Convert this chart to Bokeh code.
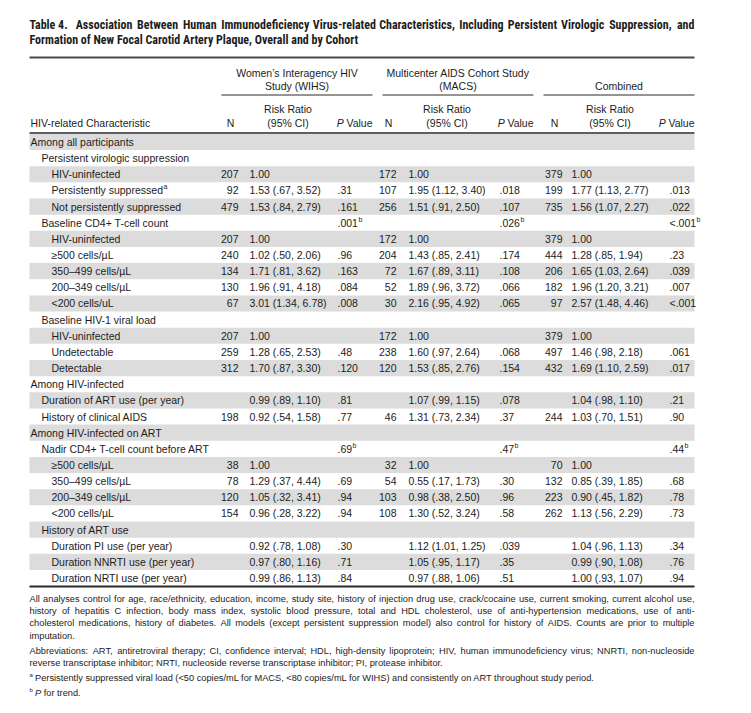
from bokeh.plotting import figure
from bokeh.models import Range1d, ColumnDataSource
from bokeh.core.properties import value
from bokeh.embed import file_html
from bokeh.resources import INLINE

# ---------------- data ----------------
title_lead = "Table 4."
title_line1 = "Association Between Human Immunodeficiency Virus-related Characteristics, Including Persistent Virologic Suppression, and"
title_line2 = "Formation of New Focal Carotid Artery Plaque, Overall and by Cohort"

group_titles = [["Women’s Interagency HIV", "Study (WIHS)"],
                ["Multicenter AIDS Cohort Study", "(MACS)"],
                ["Combined"]]
stub_header = "HIV-related Characteristic"
n_header = "N"
rr_header = ["Risk Ratio", "(95% CI)"]
p_header = ["P", "Value"]

characteristics = [
    "Among all participants",
    "Persistent virologic suppression",
    "HIV-uninfected",
    "Persistently suppressed",
    "Not persistently suppressed",
    "Baseline CD4+ T-cell count",
    "HIV-uninfected",
    "≥500 cells/µL",
    "350–499 cells/µL",
    "200–349 cells/µL",
    "<200 cells/uL",
    "Baseline HIV-1 viral load",
    "HIV-uninfected",
    "Undetectable",
    "Detectable",
    "Among HIV-infected",
    "Duration of ART use (per year)",
    "History of clinical AIDS",
    "Among HIV-infected on ART",
    "Nadir CD4+ T-cell count before ART",
    "≥500 cells/µL",
    "350–499 cells/µL",
    "200–349 cells/µL",
    "<200 cells/µL",
    "History of ART use",
    "Duration PI use (per year)",
    "Duration NNRTI use (per year)",
    "Duration NRTI use (per year)",
]
levels = [0, 1, 2, 2, 2, 1, 2, 2, 2, 2, 2, 1, 2, 2, 2, 0, 1, 1, 0, 1, 2, 2, 2, 2, 1, 2, 2, 2]
char_notes = ["", "", "", "a"] + [""] * 24

wihs_n = ["", "", "207", "92", "479", "", "207", "240", "134", "130", "67", "", "207", "259", "312",
          "", "", "198", "", "", "38", "78", "120", "154", "", "", "", ""]
wihs_rr = ["", "", "1.00", "1.53 (.67, 3.52)", "1.53 (.84, 2.79)", "", "1.00", "1.02 (.50, 2.06)",
           "1.71 (.81, 3.62)", "1.96 (.91, 4.18)", "3.01 (1.34, 6.78)", "", "1.00", "1.28 (.65, 2.53)",
           "1.70 (.87, 3.30)", "", "0.99 (.89, 1.10)", "0.92 (.54, 1.58)", "", "", "1.00",
           "1.29 (.37, 4.44)", "1.05 (.32, 3.41)", "0.96 (.28, 3.22)", "", "0.92 (.78, 1.08)",
           "0.97 (.80, 1.16)", "0.99 (.86, 1.13)"]
wihs_p = ["", "", "", ".31", ".161", ".001^b", "", ".96", ".163", ".084", ".008", "", "", ".48", ".120",
          "", ".81", ".77", "", ".69^b", "", ".69", ".94", ".94", "", ".30", ".71", ".84"]

macs_n = ["", "", "172", "107", "256", "", "172", "204", "72", "52", "30", "", "172", "238", "120",
          "", "", "46", "", "", "32", "54", "103", "108", "", "", "", ""]
macs_rr = ["", "", "1.00", "1.95 (1.12, 3.40)", "1.51 (.91, 2.50)", "", "1.00", "1.43 (.85, 2.41)",
           "1.67 (.89, 3.11)", "1.89 (.96, 3.72)", "2.16 (.95, 4.92)", "", "1.00", "1.60 (.97, 2.64)",
           "1.53 (.85, 2.76)", "", "1.07 (.99, 1.15)", "1.31 (.73, 2.34)", "", "", "1.00",
           "0.55 (.17, 1.73)", "0.98 (.38, 2.50)", "1.30 (.52, 3.24)", "", "1.12 (1.01, 1.25)",
           "1.05 (.95, 1.17)", "0.97 (.88, 1.06)"]
macs_p = ["", "", "", ".018", ".107", ".026^b", "", ".174", ".108", ".066", ".065", "", "", ".068", ".154",
          "", ".078", ".37", "", ".47^b", "", ".30", ".96", ".58", "", ".039", ".35", ".51"]

comb_n = ["", "", "379", "199", "735", "", "379", "444", "206", "182", "97", "", "379", "497", "432",
          "", "", "244", "", "", "70", "132", "223", "262", "", "", "", ""]
comb_rr = ["", "", "1.00", "1.77 (1.13, 2.77)", "1.56 (1.07, 2.27)", "", "1.00", "1.28 (.85, 1.94)",
           "1.65 (1.03, 2.64)", "1.96 (1.20, 3.21)", "2.57 (1.48, 4.46)", "", "1.00", "1.46 (.98, 2.18)",
           "1.69 (1.10, 2.59)", "", "1.04 (.98, 1.10)", "1.03 (.70, 1.51)", "", "", "1.00",
           "0.85 (.39, 1.85)", "0.90 (.45, 1.82)", "1.13 (.56, 2.29)", "", "1.04 (.96, 1.13)",
           "0.99 (.90, 1.08)", "1.00 (.93, 1.07)"]
comb_p = ["", "", "", ".013", ".022", "<.001^b", "", ".23", ".039", ".007", "<.001", "", "", ".061", ".017",
          "", ".21", ".90", "", ".44^b", "", ".68", ".78", ".73", "", ".34", ".76", ".94"]

footnote_paragraphs = [
    ["All analyses control for age, race/ethnicity, education, income, study site, history of injection drug use, crack/cocaine use, current smoking, current alcohol use,",
     "history of hepatitis C infection, body mass index, systolic blood pressure, total and HDL cholesterol, use of anti-hypertension medications, use of anti-",
     "cholesterol medications, history of diabetes. All models (except persistent suppression model) also control for history of AIDS. Counts are prior to multiple",
     "imputation."],
    ["Abbreviations: ART, antiretroviral therapy; CI, confidence interval; HDL, high-density lipoprotein; HIV, human immunodeficiency virus; NNRTI, non-nucleoside",
     "reverse transcriptase inhibitor; NRTI, nucleoside reverse transcriptase inhibitor; PI, protease inhibitor."],
]
footnote_a = "Persistently suppressed viral load (<50 copies/mL for MACS, <80 copies/mL for WIHS) and consistently on ART throughout study period."
footnote_b = ["P", "for trend."]

# ---------------- font metrics (Helvetica/Arial compatible) ----------------
_chars = " !\"#$%&'()*+,-./0123456789:;<=>?@ABCDEFGHIJKLMNOPQRSTUVWXYZ[\\]^_`abcdefghijklmnopqrstuvwxyz{|}~"
_reg = ([278, 278, 355, 556, 556, 889, 667, 191, 333, 333, 389, 584, 278, 333, 278, 278] + [556] * 10 +
        [278, 278, 584, 584, 584, 556, 1015] +
        [667, 667, 722, 722, 667, 611, 778, 722, 278, 500, 667, 556, 833, 722, 778, 667, 778, 722, 667, 611,
         722, 667, 944, 667, 667, 611] + [278, 278, 278, 469, 556, 333] +
        [556, 556, 500, 556, 556, 278, 556, 556, 222, 222, 500, 222, 833, 556, 556, 556, 556, 333, 500, 278,
         556, 500, 722, 500, 500, 500] + [334, 260, 334, 584])
_bold = ([278, 333, 474, 556, 556, 889, 722, 238, 333, 333, 389, 584, 278, 333, 278, 278] + [556] * 10 +
         [333, 333, 584, 584, 584, 611, 975] +
         [722, 722, 722, 722, 667, 611, 778, 722, 278, 556, 722, 611, 833, 722, 778, 667, 778, 722, 667, 611,
          722, 667, 944, 667, 667, 611] + [333, 278, 333, 584, 556, 333] +
         [556, 611, 556, 611, 556, 333, 611, 611, 278, 278, 556, 278, 889, 611, 611, 611, 611, 389, 556, 333,
          611, 556, 778, 556, 556, 500] + [389, 280, 389, 584])
REG = dict(zip(_chars, _reg))
BOLD = dict(zip(_chars, _bold))
for d in (REG, BOLD):
    d.update({"’": 222, "–": 556, "≥": 549, "µ": 556})


def tw(s, table=REG):
    return sum(table.get(c, 556) for c in s) / 1000.0


# ---------------- layout / style ----------------
INK = "#1c1c1c"
BAND = "#dcdcdc"
BODY_FONT = "Liberation Sans"
TITLE_FONT = "Roboto Condensed"
NARROW = 0.833
BODY_FS = 10.5
SUP_FS = 7.0

W, H = 735, 697
X0, X1 = 29, 694
GROUP_X = [(221, 372), (382, 533), (543, 694)]
N_RIGHT = [238, 396, 562]
RR_LEFT = [249, 408, 571]
P_LEFT = [337, 499, 669]
INDENT = [30, 41, 51]

TITLE_Y = [24, 39]
TITLE_GAP = 9
TOP_RULE = 57
GROUP_Y = [72, 85]
GROUP_SINGLE_Y = 85
UNDER_Y = 94.5
SUB_Y = [108.5, 122.5]
HEAD_RULE = 132.6
ROW0 = 133.4
PITCH = 16.15
NROWS = len(characteristics)
BOTTOM_RULE = ROW0 + PITCH * NROWS + 0.4
FOOT_Y0 = 598
LEAD = 12.4
PARA_GAP = 2.5

p = figure(width=W, height=H, x_range=Range1d(0, W), y_range=Range1d(H, 0),
           output_backend="svg", toolbar_location=None, min_border=0,
           x_axis_type=None, y_axis_type=None, outline_line_color=None,
           background_fill_color="white", border_fill_color="white")

buckets = {}


def put(x, y, s, size, align="left", font=BODY_FONT, fstyle="normal"):
    key = (font, size, fstyle, align)
    b = buckets.setdefault(key, {"x": [], "y": [], "text": []})
    b["x"].append(x)
    b["y"].append(y)
    b["text"].append(s)


def put_justified(words, x0, x1, y, size, table, font, fstyle, scale=1.0):
    widths = [tw(w, table) * size * scale for w in words]
    gap = ((x1 - x0) - sum(widths)) / (len(words) - 1) if len(words) > 1 else 0
    x = x0
    for w, wd in zip(words, widths):
        put(x + wd / 2, y, w, size, "center", font, fstyle)
        x += wd + gap


# row bands
band_top = [ROW0 + PITCH * i for i in range(NROWS) if i % 2 == 0]
band_bot = [t + PITCH for t in band_top]
p.quad(left=X0, right=X1, top=band_top, bottom=band_bot, fill_color=BAND, line_color=None)

# rules
p.segment(x0=[X0], y0=[TOP_RULE], x1=[X1], y1=[TOP_RULE], line_color="#4a4a4a", line_width=2)
p.segment(x0=[X0], y0=[HEAD_RULE], x1=[X1], y1=[HEAD_RULE], line_color="#2a2a2a", line_width=1.5)
p.segment(x0=[X0], y0=[BOTTOM_RULE], x1=[X1], y1=[BOTTOM_RULE], line_color="#2a2a2a", line_width=2)
p.segment(x0=[g[0] for g in GROUP_X], y0=[UNDER_Y] * 3, x1=[g[1] for g in GROUP_X], y1=[UNDER_Y] * 3,
          line_color="#2a2a2a", line_width=1)

# title
TFS = min(340.0 / (tw(title_line2, BOLD) * NARROW),
          0.975 * (X1 - X0 - TITLE_GAP) / (tw(title_lead + " " + title_line1, BOLD) * NARROW))
lead_w = tw(title_lead, BOLD) * TFS * NARROW
put(X0, TITLE_Y[0], title_lead, TFS, "left", TITLE_FONT, "bold")
put_justified(title_line1.split(" "), X0 + lead_w + TITLE_GAP, X1, TITLE_Y[0], TFS, BOLD, TITLE_FONT, "bold",
              NARROW)
put(X0, TITLE_Y[1], title_line2, TFS, "left", TITLE_FONT, "bold")

# group headers
for (gx0, gx1), lines in zip(GROUP_X, group_titles):
    cx = (gx0 + gx1) / 2
    if len(lines) == 1:
        put(cx, GROUP_SINGLE_Y, lines[0], BODY_FS, "center")
    else:
        for ln, yy in zip(lines, GROUP_Y):
            put(cx, yy, ln, BODY_FS, "center")

# column headers
put(30, SUB_Y[1], stub_header, BODY_FS)
for g, (gx0, gx1) in enumerate(GROUP_X):
    put(N_RIGHT[g] - 8, SUB_Y[1], n_header, BODY_FS, "center")
    rr_c = RR_LEFT[g] + tw("1.95 (1.12, 3.40)") * BODY_FS / 2
    put(rr_c, SUB_Y[0], rr_header[0], BODY_FS, "center")
    put(rr_c, SUB_Y[1], rr_header[1], BODY_FS, "center")
    put(gx1, SUB_Y[1], p_header[1], BODY_FS, "right")
    put(gx1 - tw(p_header[1]) * BODY_FS - 2, SUB_Y[1], p_header[0], BODY_FS, "right", BODY_FONT, "italic")

# body
for i, (label, lev, note) in enumerate(zip(characteristics, levels, char_notes)):
    y = ROW0 + PITCH * (i + 0.5)
    x = INDENT[lev]
    put(x, y, label, BODY_FS)
    if note:
        put(x + tw(label) * BODY_FS + 0.5, y - 3.5, note, SUP_FS)

for g, (ns, rrs, ps) in enumerate([(wihs_n, wihs_rr, wihs_p), (macs_n, macs_rr, macs_p),
                                   (comb_n, comb_rr, comb_p)]):
    for i in range(NROWS):
        y = ROW0 + PITCH * (i + 0.5)
        if ns[i]:
            put(N_RIGHT[g], y, ns[i], BODY_FS, "right")
        if rrs[i]:
            put(RR_LEFT[g], y, rrs[i], BODY_FS)
        if ps[i]:
            main, _, sup = ps[i].partition("^")
            put(P_LEFT[g], y, main, BODY_FS)
            if sup:
                put(P_LEFT[g] + tw(main) * BODY_FS + 0.5, y - 3.5, sup, SUP_FS)

# footnotes
just_lines = [ln for para in footnote_paragraphs for ln in para[:-1]]
FFS = min(9.25, min(663.0 / tw(ln) for ln in just_lines))
fy = FOOT_Y0
for para in footnote_paragraphs:
    for k, ln in enumerate(para):
        if k < len(para) - 1:
            put_justified(ln.split(" "), X0, X1, fy, FFS, REG, BODY_FONT, "normal")
        else:
            put(X0, fy, ln, FFS)
        fy += LEAD
    fy += PARA_GAP
put(X0, fy - 3, "a", 6.0)
put(X0 + 5.5, fy, footnote_a, FFS)
fy += LEAD + PARA_GAP
put(X0, fy - 3, "b", 6.0)
put(X0 + 5.5, fy, footnote_b[0], FFS, "left", BODY_FONT, "italic")
put(X0 + 5.5 + tw(footnote_b[0]) * FFS + 2.5, fy, footnote_b[1], FFS)

for (font, size, fstyle, align), b in buckets.items():
    p.text(x="x", y="y", text="text", source=ColumnDataSource(b),
           text_font=value(font), text_font_size=value(f"{size:.2f}px"), text_font_style=fstyle,
           text_align=align, text_baseline="middle", text_color=INK)

open("out.html", "w").write(file_html(p, INLINE))
